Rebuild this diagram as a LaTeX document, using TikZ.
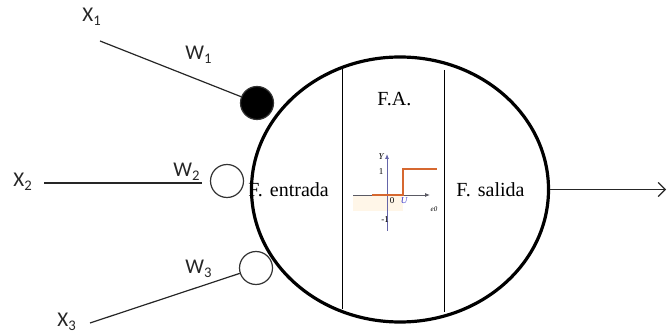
\documentclass[tikz,border=0pt]{standalone}
\usepackage{fontspec}
\setmainfont{Liberation Serif}
\newfontfamily\carl{Carlito}
\usetikzlibrary{shapes.geometric,arrows.meta}
\definecolor{stepor}{RGB}{214,104,48}
\definecolor{axgray}{RGB}{90,90,100}
\definecolor{paleor}{RGB}{255,246,232}
\begin{document}
\begin{tikzpicture}[x=0.5pt,y=-0.5pt,
  lbl/.style={font=\carl\fontsize{10.5}{12}\selectfont, inner sep=0pt, anchor=base west, text=black!85},
  serif/.style={font=\fontsize{10}{12}\selectfont, inner sep=0pt, anchor=base west},
  wcirc/.style={circle, draw=black!80, line width=0.6pt, minimum size=16.5pt, inner sep=0pt},
  wire/.style={draw=black!85, line width=0.6pt},
  tiny/.style={font=\fontsize{4.5}{5}\selectfont, inner sep=0pt},
  axis/.style={draw=axgray, line width=0.4pt, -{Latex[length=2.5pt,width=2pt]}}]
\useasboundingbox (0,0) rectangle (667,335);
% main body
\node[ellipse, draw, line width=1.6pt, minimum width=148.5pt, minimum height=132.5pt, inner sep=0pt] (el) at (400,189.5) {};
\draw[line width=0.5pt] (342,69) -- (342,309);
\draw[line width=0.5pt] (444,70) -- (444,312);
% weight circles
\node[wcirc, fill=black] (w1) at (257,103) {};
\node[wcirc] (w2) at (227,181) {};
\node[wcirc] (w3) at (256,268) {};
% inputs
\coordinate (i1) at (100,41);
\coordinate (i2) at (44,183);
\coordinate (i3) at (90,323);
\draw[wire] (i1) -- (w1);
\draw[wire, shorten >=4pt] (i2) -- (w2.west |- i2);
\draw[wire] (i3) -- (w3);
% output
\coordinate (out) at (666,189.5);
\draw[wire, -{Straight Barb[length=3.5pt,width=7pt]}] (el.east) -- (out);
% labels
\node[lbl] (x1) at (82,22) {X\textsubscript{1}};
\node[lbl] (lw1) at (185,60) {W\textsubscript{1}};
\node[lbl] (x2) at (13,187) {X\textsubscript{2}};
\node[lbl] (lw2) at (173,177) {W\textsubscript{2}};
\node[lbl] (lw3) at (185,274) {W\textsubscript{3}};
\node[lbl] (x3) at (57,327) {X\textsubscript{3}};
\node[serif] (fa) at (377,106) {F.A.};
\node[serif] (fe) at (248,197) {F.\hspace{3.5pt}entrada};
\node[serif] (fs) at (456,197) {F.\hspace{3.5pt}salida};
% activation graph
\fill[paleor] (353,195.5) rectangle (403,211);
\draw[axis] (353,195) -- (430,195);
\draw[axis, draw=axgray!70!blue!80] (387,231) -- (387,154);
\draw[stepor, line width=1pt] (372,195) -- (403,195) -- (403,169) -- (437,169);
\node[tiny, font=\fontsize{4.5}{5}\selectfont\itshape] (ty) at (381,157) {Y};
\node[tiny] (t1) at (381,172) {1};
\node[tiny] (t0) at (392,201) {0};
\node[tiny, text=blue!60!gray, font=\fontsize{4.5}{5}\selectfont\itshape] (tu) at (404,201) {U};
\node[tiny] (tm) at (385,220) {-1};
\node[tiny, font=\fontsize{3.5}{4}\selectfont\itshape] (te) at (434,209) {e0};
\end{tikzpicture}
\end{document}
